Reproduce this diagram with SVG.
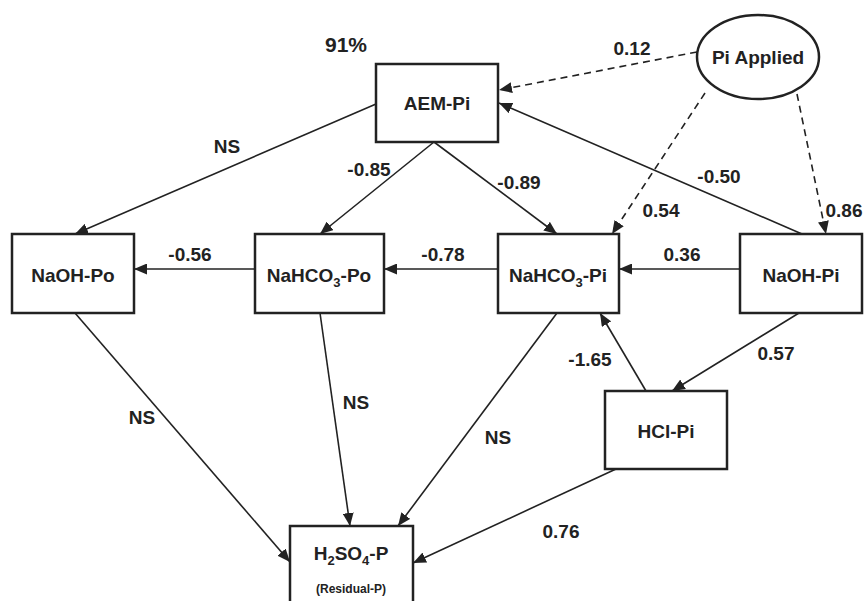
<svg xmlns="http://www.w3.org/2000/svg" width="868" height="601" viewBox="0 0 868 601">
<defs>
<style>
.box{fill:#fff;stroke:#222;stroke-width:2.5}
.lbl{font-family:"Liberation Sans",Arial,sans-serif;font-weight:bold;font-size:19px;fill:#222;text-anchor:middle}
.el{font-family:"Liberation Sans",Arial,sans-serif;font-weight:bold;font-size:19px;fill:#222;text-anchor:middle}
.ln{stroke:#222;stroke-width:1.6;fill:none;marker-end:url(#ah)}
.dash{stroke-dasharray:7,5}
</style>
<marker id="ah" markerUnits="userSpaceOnUse" markerWidth="14" markerHeight="11" refX="13" refY="5.5" orient="auto">
<path d="M0,0 L13,5.5 L0,11 z" fill="#222"/>
</marker>
</defs>
<rect width="868" height="601" fill="#fff"/>
<g id="connectors">
<line class="ln" x1="376" y1="104" x2="75" y2="234"/>
<line class="ln" x1="434" y1="142" x2="320" y2="234"/>
<line class="ln" x1="434" y1="142" x2="557" y2="234"/>
<line class="ln dash" x1="697" y1="52" x2="499" y2="90"/>
<line class="ln" x1="802" y1="234" x2="499" y2="103"/>
<line class="ln dash" x1="705" y1="93" x2="612" y2="234"/>
<line class="ln dash" x1="797" y1="94" x2="826" y2="234"/>
<line class="ln" x1="498" y1="269" x2="384" y2="269"/>
<line class="ln" x1="255" y1="269" x2="134" y2="269"/>
<line class="ln" x1="740" y1="269" x2="619" y2="269"/>
<line class="ln" x1="799" y1="313" x2="672" y2="391"/>
<line class="ln" x1="646" y1="391" x2="600" y2="313"/>
<line class="ln" x1="75" y1="313" x2="290" y2="562"/>
<line class="ln" x1="320" y1="313" x2="350" y2="526"/>
<line class="ln" x1="557" y1="313" x2="398" y2="526"/>
<line class="ln" x1="616" y1="469" x2="413" y2="563"/>
<text class="el" x="227" y="153">NS</text>
<text class="el" x="369" y="176">-0.85</text>
<text class="el" x="519" y="189">-0.89</text>
<text class="el" x="632" y="55">0.12</text>
<text class="el" x="719" y="183">-0.50</text>
<text class="el" x="661" y="217">0.54</text>
<text class="el" x="844" y="217">0.86</text>
<text class="el" x="190" y="261">-0.56</text>
<text class="el" x="443" y="261">-0.78</text>
<text class="el" x="682" y="261">0.36</text>
<text class="el" x="776" y="360">0.57</text>
<text class="el" x="590" y="366">-1.65</text>
<text class="el" x="142" y="424">NS</text>
<text class="el" x="356" y="409">NS</text>
<text class="el" x="498" y="444">NS</text>
<text class="el" x="561" y="538">0.76</text>
</g>
<g id="r2">
<text class="lbl" x="346" y="52" style="font-size:21px">91%</text>
</g>
<g id="aem-pi">
<rect class="box" x="376" y="64" width="122" height="78"/>
<text class="lbl" x="437" y="110">AEM-Pi</text>
</g>
<g id="pi-applied">
<ellipse cx="758" cy="57" rx="61" ry="42" fill="#fff" stroke="#222" stroke-width="2.5"/>
<text class="lbl" x="758" y="64">Pi Applied</text>
</g>
<g id="naoh-po">
<rect class="box" x="12" y="234" width="122" height="79"/>
<text class="lbl" x="73" y="282">NaOH-Po</text>
</g>
<g id="nahco3-po">
<rect class="box" x="255" y="234" width="129" height="79"/>
<text class="lbl" x="319" y="282">NaHCO<tspan font-size="13" dy="5">3</tspan><tspan dy="-5">-Po</tspan></text>
</g>
<g id="nahco3-pi">
<rect class="box" x="498" y="234" width="121" height="79"/>
<text class="lbl" x="558" y="282">NaHCO<tspan font-size="13" dy="5">3</tspan><tspan dy="-5">-Pi</tspan></text>
</g>
<g id="naoh-pi">
<rect class="box" x="740" y="234" width="122" height="79"/>
<text class="lbl" x="801" y="282">NaOH-Pi</text>
</g>
<g id="hcl-pi">
<rect class="box" x="605" y="391" width="122" height="78"/>
<text class="lbl" x="666" y="438">HCl-Pi</text>
</g>
<g id="h2so4-p">
<rect class="box" x="290" y="526" width="123" height="90"/>
<text class="lbl" x="351" y="560">H<tspan font-size="13" dy="5">2</tspan><tspan dy="-5">SO</tspan><tspan font-size="13" dy="5">4</tspan><tspan dy="-5">-P</tspan></text>
<text class="lbl" x="351" y="593" style="font-size:12px">(Residual-P)</text>
</g>
</svg>
